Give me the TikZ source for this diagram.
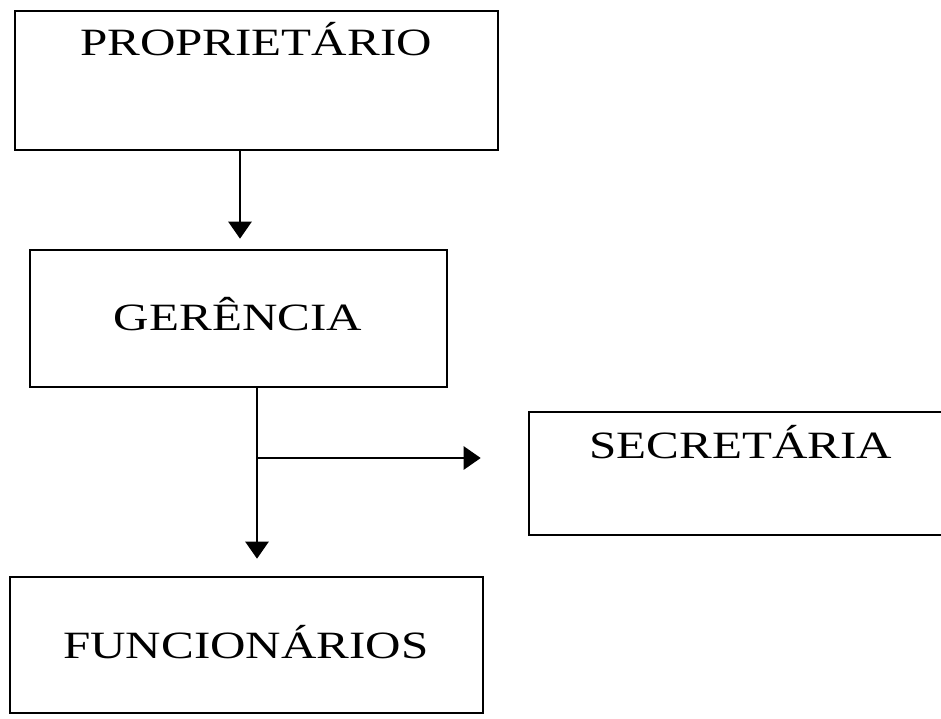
\documentclass[tikz,border=0pt]{standalone}
\usepackage{fontspec}
\setmainfont[FakeStretch=1.27]{Liberation Serif}
\usepackage{tikz}
\usetikzlibrary{arrows.meta,calc}

\begin{document}
\begin{tikzpicture}[x=0.02cm, y=-0.02cm,
  caixa/.style={draw=black, line width=1.5pt, rectangle, inner sep=0pt},
  rotulo/.style={font=\fontsize{22}{26}\selectfont, anchor=base, inner sep=0pt},
  seta/.style={draw=black, line width=1.4pt, -{Triangle[width=0.46cm, length=0.34cm]}}]
  \useasboundingbox (0,0) rectangle (941,718);
  % caixas
  \node[caixa, minimum width=9.66cm, minimum height=2.78cm] (prop) at (256.5,80.5) {};
  \node[caixa, minimum width=8.34cm, minimum height=2.74cm] (ger) at (238.5,318.5) {};
  \node[caixa, minimum width=8.48cm, minimum height=2.46cm] (sec) at (741,473.5) {};
  \node[caixa, minimum width=9.46cm, minimum height=2.72cm] (func) at (246.5,645) {};
  % textos
  \node[rotulo] (tprop) at (256,55) {PROPRIETÁRIO};
  \node[rotulo] (tger) at (238,330) {GERÊNCIA};
  \node[rotulo] (tsec) at (741,458) {SECRETÁRIA};
  \node[rotulo] (tfunc) at (246,658) {FUNCIONÁRIOS};
  % ligacoes
  \coordinate (eixo) at (240,200);
  \coordinate (derivacao) at (257,458);
  \draw[seta, shorten >=0.2cm] (prop.south -| eixo) -- (ger.north -| eixo);
  \draw[seta, shorten >=0.34cm] (ger.south -| derivacao) -- (func.north -| derivacao);
  \draw[seta, shorten >=0.94cm] (derivacao) -- (sec.west |- derivacao);
\end{tikzpicture}
\end{document}
